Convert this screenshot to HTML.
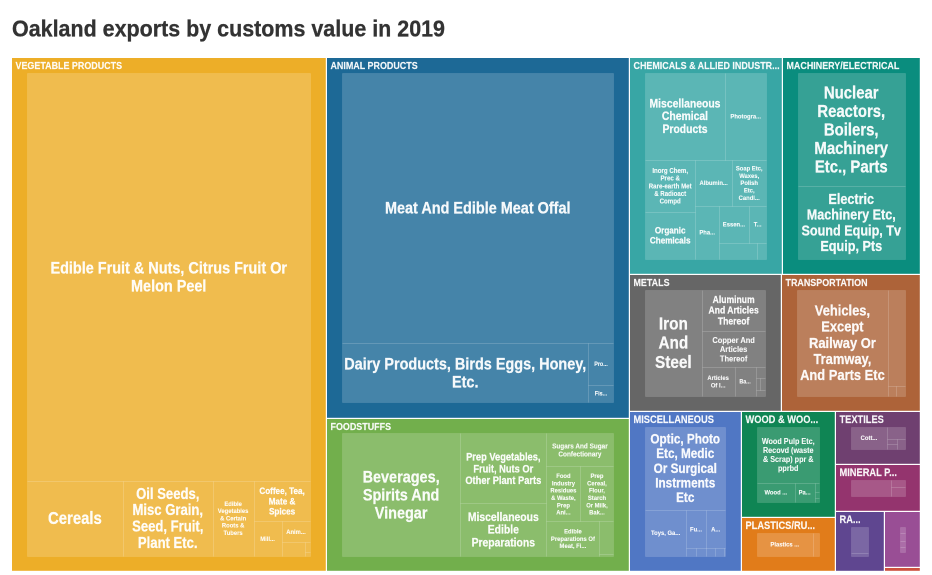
<!DOCTYPE html>
<html lang="en">
<head>
<meta charset="utf-8">
<title>Oakland exports by customs value in 2019</title>
<style>
html,body{margin:0;padding:0;background:#fff;width:932px;height:575px;overflow:hidden}
svg{display:block}
text{font-family:"Liberation Sans",sans-serif;font-weight:700}
</style>
</head>
<body>
<svg id="chart" width="932" height="575" viewBox="0 0 932 575">
<text x="12" y="36.5" textLength="433" lengthAdjust="spacingAndGlyphs" font-size="23.5" fill="#333333" stroke="#333333" stroke-width="0.3">Oakland exports by customs value in 2019</text>
<g id="cells"></g>
</svg>
<script>
// ---- Data: customs value per commodity (arbitrary units) ----
const vegetableLabels = ["Edible Fruit & Nuts, Citrus Fruit Or|Melon Peel","Cereals","Oil Seeds,|Misc Grain,|Seed, Fruit,|Plant Etc.","Edible|Vegetables|& Certain|Roots &|Tubers","Coffee, Tea,|Mate &|Spices","Mill...","Anim...","","",""];
const vegetableValues = [136766,8498,7967,3629,2758,1124,685,380,71,28];
const animalLabels = ["Meat And Edible Meat Offal","Dairy Products, Birds Eggs, Honey,|Etc.","Pro...","Fis..."];
const animalValues = [89554,17998,1280,549];
const foodLabels = ["Beverages,|Spirits And|Vinegar","Prep Vegetables,|Fruit, Nuts Or|Other Plant Parts","Miscellaneous|Edible|Preparations","Sugars And Sugar|Confectionary","Food|Industry|Residues|& Waste,|Prep|Ani...","Prep|Cereal,|Flour,|Starch|Or Milk,|Bak...","Edible|Preparations Of|Meat, Fi...","",""];
const foodValues = [20186,8441,6271,3100,2622,2545,2527,628,39];
const chemicalLabels = ["Miscellaneous|Chemical|Products","Photogra...","Inorg Chem,|Prec &|Rare-earth Met|& Radioact|Compd","Organic|Chemicals","Albumin...","Soap Etc,|Waxes,|Polish|Etc,|Candl...","Pha...","Essen...","T...","",""];
const chemicalValues = [10234,5307,3881,3442,2497,2362,1826,1594,956,873,230];
const machineryLabels = ["Nuclear|Reactors,|Boilers,|Machinery|Etc., Parts","Electric|Machinery Etc,|Sound Equip, Tv|Equip, Pts"];
const machineryValues = [18318,11628];
const metalLabels = ["Iron|And|Steel","Aluminum|And Articles|Thereof","Copper And|Articles|Thereof","Articles|Of I...","Ba...","","","",""];
const metalValues = [9810,4301,3776,1514,964,180,98,99,82];
const transportLabels = ["Vehicles,|Except|Railway Or|Tramway,|And Parts Etc","","",""];
const transportValues = [16100,2691,119,133];
const miscLabels = ["Optic, Photo|Etc, Medic|Or Surgical|Instrments|Etc","Toys, Ga...","Fu...","A...","","","","",""];
const miscValues = [11530,3273,1321,1321,119,119,107,107,23];
const woodLabels = ["Wood Pulp Etc,|Recovd (waste|& Scrap) ppr &|pprbd","Wood ...","Pa...","","",""];
const woodValues = [7440,1523,801,95,63,42];
const plasticLabels = ["Plastics ...",""];
const plasticValues = [4512,564];
const textileLabels = ["Cott...","","","",""];
const textileValues = [3031,804,186,186,298];
const mineralLabels = ["","",""];
const mineralValues = [2978,508,509];
const rawLabels = ["",""];
const rawValues = [2737,203];
const otherLabels = ["","","",""];
const otherValues = [484,645,484,403];
const remainderLabels = [""];
const remainderValues = [144];

// Label font sizes, one per leaf (style only, separate from the values)
const fontSizes = {
  vegetable:[16,16.5,14.5,6.5,9,6.5,6.5,6,6,6], animal:[16,16,6,6], food:[16,10.3,11.5,7.1,6.5,6.5,6.5,6,6],
  chemical:[11.5,6.5,6.8,9,6.5,6.5,6.5,6.5,6.5,6,6], machinery:[16.5,14], metal:[17,9.5,8.3,6.5,6,6,6,6,6],
  transport:[14.3,6,6,6], misc:[13,6.5,6.5,6.5,6,6,6,6,6], wood:[8,6.5,6.5,6,6,6], plastic:[6.5,6], textile:[6.5,6,6,6,6],
  mineral:[6,6,6], raw:[6,6], other:[6,6,6,6], remainder:[6]
};
const CONDENSE = 0.86;

// Split tree for each group: "h" splits left-to-right, "v" top-to-bottom, numbers index the value arrays
const vegetableTree = ["v",0,["h",1,2,3,["v",4,["h",5,["v",6,["h",7,["v",8,9]]]]]]];
const animalTree = ["v",0,["h",1,["v",2,3]]];
const foodTree = ["h",0,["v",1,2],["v",3,["h",4,5],["h",6,["v",7,8]]]];
const chemicalTree = ["v",["h",0,1],["h",["v",2,3],["v",["h",4,5],["h",6,["v",["h",7,8],["h",9,10]]]]]];
const machineryTree = ["v",0,1];
const metalTree = ["h",0,["v",1,2,["h",3,4,["v",5,["h",6,7],8]]]];
const transportTree = ["h",0,["v",1,["h",2,3]]];
const miscTree = ["v",0,["h",1,["v",["h",2,3],["h",4,5,6,7,8]]]];
const woodTree = ["v",0,["h",1,2,["v",3,4,5]]];
const plasticTree = ["h",0,1];
const textileTree = ["h",0,["v",1,["h",["v",2,3],4]]];
const mineralTree = ["h",0,["v",1,2]];
const rawTree = ["v",0,1];
const otherTree = ["v",0,1,2,3];
const remainderTree = [0];

const groups = {
  vegetable:{title:"VEGETABLE PRODUCTS",color:"#edae28",labels:vegetableLabels,values:vegetableValues,tree:vegetableTree,ts:10.4},
  animal:{title:"ANIMAL PRODUCTS",color:"#1d6996",labels:animalLabels,values:animalValues,tree:animalTree,ts:10.4},
  food:{title:"FOODSTUFFS",color:"#72af4c",labels:foodLabels,values:foodValues,tree:foodTree,ts:10.4},
  chemical:{title:"CHEMICALS & ALLIED INDUSTR...",color:"#38a6a5",labels:chemicalLabels,values:chemicalValues,tree:chemicalTree,ts:10.4},
  machinery:{title:"MACHINERY/ELECTRICAL",color:"#0a8d7e",labels:machineryLabels,values:machineryValues,tree:machineryTree,ts:10.4},
  metal:{title:"METALS",color:"#666666",labels:metalLabels,values:metalValues,tree:metalTree,ts:10.4},
  transport:{title:"TRANSPORTATION",color:"#ad6339",labels:transportLabels,values:transportValues,tree:transportTree,ts:10.4},
  misc:{title:"MISCELLANEOUS",color:"#5077c4",labels:miscLabels,values:miscValues,tree:miscTree,ts:10.8},
  wood:{title:"WOOD & WOO...",color:"#0f8554",labels:woodLabels,values:woodValues,tree:woodTree,ts:10.8},
  plastic:{title:"PLASTICS/RU...",color:"#e17c1a",labels:plasticLabels,values:plasticValues,tree:plasticTree,ts:10.8},
  textile:{title:"TEXTILES",color:"#6f4070",labels:textileLabels,values:textileValues,tree:textileTree,ts:10.8},
  mineral:{title:"MINERAL P...",color:"#94346e",labels:mineralLabels,values:mineralValues,tree:mineralTree,ts:10.8},
  raw:{title:"RA...",color:"#5f4690",labels:rawLabels,values:rawValues,tree:rawTree,ts:10.8},
  other:{title:"",color:"#994e95",labels:otherLabels,values:otherValues,tree:otherTree,ts:10.8},
  remainder:{title:"",color:"#cc503e",labels:remainderLabels,values:remainderValues,tree:remainderTree,ts:10.8}
};
const rootTree = ["h","vegetable",["v","animal","food"],
  ["v",["h","chemical","machinery"],["h","metal","transport"],
    ["h","misc",["v","wood","plastic"],["v","textile","mineral",["h","raw",["v","other","remainder"]]]]]];

const SVGNS = "http://www.w3.org/2000/svg";
const cellsLayer = document.getElementById("cells");
const ROOT = {x0:12,y0:58,x1:921,y1:572};
const PAD = {left:15,top:14.5,right:16.5,bottom:16.5};

function slug(s){return s.toLowerCase().replace(/\.\.\./g,"").replace(/[^a-z0-9]+/g,"-").replace(/^-|-$/g,"");}
function weight(node,valueOf){
  if(!Array.isArray(node)) return valueOf(node);
  if(node.length===1) return weight(node[0],valueOf);
  let sum=0;
  for(let i=1;i<node.length;i++) sum+=weight(node[i],valueOf);
  return sum;
}
// Axis-like scale: maps cumulative value to a pixel position along one side
function scale(d0,d1,r0,r1){return v=>r0+(v-d0)/(d1-d0)*(r1-r0);}
function split(node,rect,valueOf,visit){
  if(!Array.isArray(node)){visit(node,rect);return;}
  if(node.length===1){split(node[0],rect,valueOf,visit);return;}
  const horizontal=node[0]==="h";
  const total=weight(node,valueOf);
  const pos=horizontal?scale(0,total,rect.x0,rect.x1):scale(0,total,rect.y0,rect.y1);
  let run=0;
  for(let i=1;i<node.length;i++){
    const w=weight(node[i],valueOf);
    const a=pos(run),b=pos(run+w);
    run+=w;
    split(node[i],horizontal?{x0:a,x1:b,y0:rect.y0,y1:rect.y1}:{x0:rect.x0,x1:rect.x1,y0:a,y1:b},valueOf,visit);
  }
}
function groupTotal(key){const g=groups[key];return g.values.reduce((a,b)=>a+b,0);}
function condenseAbout(x){return "translate("+x+",0) scale("+CONDENSE+",1) translate("+(-x)+",0)";}

split(rootTree,ROOT,groupTotal,function(key,box){
  const g=groups[key];
  const gEl=document.createElementNS(SVGNS,"g");
  
  
  cellsLayer.appendChild(gEl);

  const bg=document.createElementNS(SVGNS,"rect");
  
  
  bg.setAttribute("x",box.x0);
  bg.setAttribute("y",box.y0);
  bg.setAttribute("width",Math.max(0,box.x1-box.x0-1.2));
  bg.setAttribute("height",Math.max(0,box.y1-box.y0-1.2));
  bg.setAttribute("fill",g.color);
  gEl.appendChild(bg);

  if(g.title){
    const t=document.createElementNS(SVGNS,"text");
    
    
    t.setAttribute("x",box.x0+3.5);
    t.setAttribute("y",box.y0+11.2);
    t.setAttribute("font-size",g.ts);
    t.setAttribute("fill","#ffffff");
    t.setAttribute("fill-opacity","0.94");
    t.setAttribute("stroke","#ffffff");
    t.setAttribute("stroke-width","0.15");
    t.setAttribute("transform",condenseAbout(box.x0+3.5));
    t.textContent=g.title;
    gEl.appendChild(t);
  }

  const inner={x0:box.x0+PAD.left,y0:box.y0+PAD.top,x1:box.x1-PAD.right,y1:box.y1-PAD.bottom};
  if(inner.x1<=inner.x0||inner.y1<=inner.y0) return;

  split(g.tree,inner,i=>g.values[i],function(i,r){
    const label=g.labels[i];
    const rx0=Math.round(r.x0), ry0=Math.round(r.y0), rx1=Math.round(r.x1), ry1=Math.round(r.y1);
    const leaf=document.createElementNS(SVGNS,"rect");
    
    
    leaf.setAttribute("x",rx0+0.5);
    leaf.setAttribute("y",ry0+0.5);
    leaf.setAttribute("width",Math.max(0,rx1-rx0));
    leaf.setAttribute("height",Math.max(0,ry1-ry0));
    leaf.setAttribute("fill","#ffffff");
    leaf.setAttribute("fill-opacity","0.18");
    leaf.setAttribute("stroke","#ffffff");
    leaf.setAttribute("stroke-opacity","0.09");
    leaf.setAttribute("stroke-width","1");
    gEl.appendChild(leaf);

    if(!label.trim()) return;
    const lines=label.split("|");
    const fs=fontSizes[key][i]*1.05;
    const lh=fs*1.07;
    const cx=(r.x0+r.x1)/2, cy=(r.y0+r.y1)/2;
    const txt=document.createElementNS(SVGNS,"text");
    
    
    txt.setAttribute("text-anchor","middle");
    txt.setAttribute("font-size",fs);
    txt.setAttribute("fill","#ffffff");
    txt.setAttribute("fill-opacity","0.95");
    txt.setAttribute("stroke","#ffffff");
    txt.setAttribute("stroke-width",fs>9?"0.25":"0.1");
    txt.setAttribute("transform",condenseAbout(cx));
    lines.forEach(function(line,k){
      const sp=document.createElementNS(SVGNS,"tspan");
      sp.setAttribute("x",cx);
      sp.setAttribute("y",cy+(k-(lines.length-1)/2)*lh+fs*0.35);
      sp.textContent=line;
      txt.appendChild(sp);
    });
    gEl.appendChild(txt);
  });
});
</script>
</body>
</html>
